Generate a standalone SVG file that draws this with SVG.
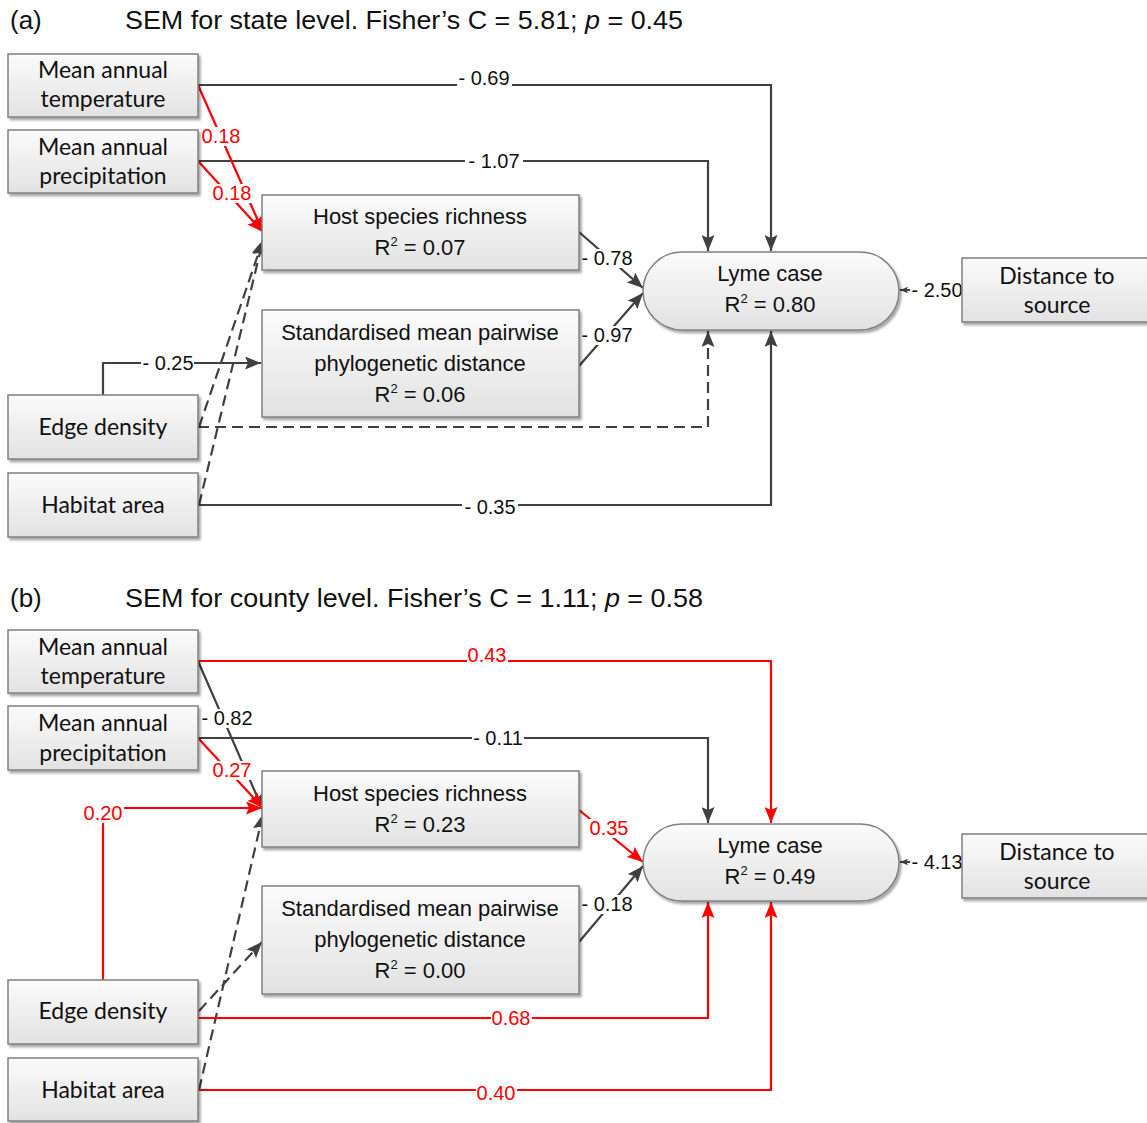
<svg xmlns="http://www.w3.org/2000/svg" width="1147" height="1123" viewBox="0 0 1147 1123">
<defs>
<linearGradient id="gbox" x1="0" y1="0" x2="0" y2="1">
<stop offset="0" stop-color="#fbfbfb"/>
<stop offset="1" stop-color="#e2e2e2"/>
</linearGradient>
<filter id="sh" x="-10%" y="-10%" width="120%" height="130%">
<feDropShadow dx="2" dy="2.5" stdDeviation="1.2" flood-color="#000" flood-opacity="0.35"/>
</filter>
<marker id="ak" viewBox="0 0 16 13" refX="16" refY="6.5" markerWidth="16" markerHeight="13" markerUnits="userSpaceOnUse" orient="auto">
<path d="M0,0 L16,6.5 L0,13 L3,6.5 z" fill="#404040" stroke="none"/>
</marker>
<marker id="ar" viewBox="0 0 16 13" refX="16" refY="6.5" markerWidth="16" markerHeight="13" markerUnits="userSpaceOnUse" orient="auto">
<path d="M0,0 L16,6.5 L0,13 L3,6.5 z" fill="#ff0000" stroke="none"/>
</marker>
<marker id="as" viewBox="0 0 16 13" refX="16" refY="6.5" markerWidth="8" markerHeight="6.5" markerUnits="userSpaceOnUse" orient="auto">
<path d="M0,0 L16,6.5 L0,13 L3,6.5 z" fill="#404040" stroke="none"/>
</marker>
</defs>
<style>
.box{fill:url(#gbox);stroke:#808080;stroke-width:1.5;filter:url(#sh)}
.tc{font-family:Lato,"Liberation Sans",sans-serif;font-size:23px;fill:#111;text-anchor:middle}
.ta{font-family:"Liberation Sans",Arial,sans-serif;font-size:22px;fill:#111;text-anchor:middle}
.title{font-family:"Liberation Sans",Arial,sans-serif;font-size:26px;fill:#111}
.k{fill:none;stroke:#404040;stroke-width:2.2}
.r{fill:none;stroke:#ff0000;stroke-width:2.2}
.d{stroke-dasharray:11 6}
.lb rect{fill:#fff}
.lb text{font-family:"Liberation Sans",Arial,sans-serif;font-size:20px;text-anchor:middle}
.lk text{fill:#111}
.lr text{fill:#ff0000}
</style>
<rect width="1147" height="1123" fill="#fff"/>

<g id="titles">
<text class="title" x="10" y="29">(a)</text>
<text class="title" x="125" y="29" textLength="558" lengthAdjust="spacingAndGlyphs">SEM for state level. Fisher’s C = 5.81; <tspan font-style="italic">p</tspan> = 0.45</text>
<text class="title" x="10" y="607">(b)</text>
<text class="title" x="125" y="607" textLength="578" lengthAdjust="spacingAndGlyphs">SEM for county level. Fisher’s C = 1.11; <tspan font-style="italic">p</tspan> = 0.58</text>
</g>

<g id="connectors">
<!-- panel a black -->
<path class="k" d="M198,85 H771 V251" marker-end="url(#ak)"/>
<path class="k" d="M198,161 H708 V251" marker-end="url(#ak)"/>
<path class="k d" d="M198,427 H708 V331" marker-end="url(#ak)"/>
<path class="k" d="M198,505 H771 V331" marker-end="url(#ak)"/>
<path class="k" d="M103,395 V363 H261" marker-end="url(#ak)"/>
<path class="k d" d="M199,427 L263,240" marker-end="url(#ak)"/>
<path class="k d" d="M199,505 L263,240" marker-end="url(#ak)"/>
<path class="k" d="M579,232 L643,288" marker-end="url(#ak)"/>
<path class="k" d="M579,366 L643,293" marker-end="url(#ak)"/>
<path class="k" d="M962,290 H900" marker-end="url(#as)"/>
<!-- panel a red -->
<path class="r" d="M198,85 L263,232" marker-end="url(#ar)"/>
<path class="r" d="M198,161 L263,232" marker-end="url(#ar)"/>
<!-- panel b black -->
<path class="k" d="M198,738 H708 V823" marker-end="url(#ak)"/>
<path class="k" d="M198,661 L263,810" marker-end="url(#ak)"/>
<path class="k d" d="M199,1011 L262,942" marker-end="url(#ak)"/>
<path class="k d" d="M199,1090 L263,814" marker-end="url(#ak)"/>
<path class="k" d="M579,942 L643,866" marker-end="url(#ak)"/>
<path class="k" d="M962,862 H900" marker-end="url(#as)"/>
<!-- panel b red -->
<path class="r" d="M198,661 H771 V823" marker-end="url(#ar)"/>
<path class="r" d="M198,738 L263,808" marker-end="url(#ar)"/>
<path class="r" d="M103,980 V808 H262" marker-end="url(#ar)"/>
<path class="r" d="M198,1011 V1018 H708 V902" marker-end="url(#ar)"/>
<path class="r" d="M198,1090 H771 V902" marker-end="url(#ar)"/>
<path class="r" d="M579,810 L643,862" marker-end="url(#ar)"/>

<!-- labels a -->
<g class="lb lk"><rect x="457" y="70" width="55" height="19"/><text x="484" y="85">- 0.69</text></g>
<g class="lb lk"><rect x="465" y="152" width="58" height="19"/><text x="494" y="168">- 1.07</text></g>
<g class="lb lk"><rect x="462" y="498" width="56" height="19"/><text x="490" y="514">- 0.35</text></g>
<g class="lb lk"><rect x="141" y="354" width="53" height="19"/><text x="168" y="370">- 0.25</text></g>
<g class="lb lk"><rect x="910" y="281" width="53" height="19"/><text x="937" y="297">- 2.50</text></g>
<g class="lb lk"><rect x="581" y="249" width="53" height="19"/><text x="607" y="265">- 0.78</text></g>
<g class="lb lk"><rect x="581" y="326" width="53" height="19"/><text x="607" y="342">- 0.97</text></g>
<g class="lb lr"><rect x="201" y="127" width="41" height="19"/><text x="221" y="143">0.18</text></g>
<g class="lb lr"><rect x="212" y="184" width="41" height="19"/><text x="232" y="200">0.18</text></g>
<!-- labels b -->
<g class="lb lr"><rect x="467" y="646" width="41" height="19"/><text x="487" y="662">0.43</text></g>
<g class="lb lk"><rect x="472" y="729" width="52" height="19"/><text x="498" y="745">- 0.11</text></g>
<g class="lb lr"><rect x="491" y="1009" width="41" height="19"/><text x="511" y="1025">0.68</text></g>
<g class="lb lr"><rect x="476" y="1084" width="41" height="19"/><text x="496" y="1100">0.40</text></g>
<g class="lb lr"><rect x="82" y="804" width="42" height="19"/><text x="103" y="820">0.20</text></g>
<g class="lb lk"><rect x="202" y="709" width="51" height="19"/><text x="227" y="725">- 0.82</text></g>
<g class="lb lr"><rect x="212" y="761" width="39" height="19"/><text x="232" y="777">0.27</text></g>
<g class="lb lr"><rect x="589" y="819" width="41" height="19"/><text x="609" y="835">0.35</text></g>
<g class="lb lk"><rect x="581" y="895" width="53" height="19"/><text x="607" y="911">- 0.18</text></g>
<g class="lb lk"><rect x="910" y="853" width="53" height="19"/><text x="937" y="869">- 4.13</text></g>
</g>

<!-- panel a nodes -->
<g id="a-temp"><rect class="box" x="8" y="54" width="190" height="63"/><text class="tc" x="103" y="78">Mean annual</text><text class="tc" x="103" y="107">temperature</text></g>
<g id="a-precip"><rect class="box" x="8" y="130" width="190" height="63"/><text class="tc" x="103" y="155">Mean annual</text><text class="tc" x="103" y="184">precipitation</text></g>
<g id="a-host"><rect class="box" x="262" y="195" width="317" height="75"/><text class="ta" x="420" y="224">Host species richness</text><text class="ta" x="420" y="255">R<tspan dy="-9" font-size="13">2</tspan><tspan dy="9"> = 0.07</tspan></text></g>
<g id="a-smpd"><rect class="box" x="262" y="310" width="317" height="107"/><text class="ta" x="420" y="340">Standardised mean pairwise</text><text class="ta" x="420" y="371">phylogenetic distance</text><text class="ta" x="420" y="402">R<tspan dy="-9" font-size="13">2</tspan><tspan dy="9"> = 0.06</tspan></text></g>
<g id="a-edge"><rect class="box" x="8" y="395" width="190" height="64"/><text class="tc" x="103" y="435">Edge density</text></g>
<g id="a-habitat"><rect class="box" x="8" y="473" width="190" height="64"/><text class="tc" x="103" y="513">Habitat area</text></g>
<g id="a-lyme"><rect class="box" x="643" y="252" width="256" height="78" rx="39" ry="39"/><text class="ta" x="770" y="281">Lyme case</text><text class="ta" x="770" y="312">R<tspan dy="-9" font-size="13">2</tspan><tspan dy="9"> = 0.80</tspan></text></g>
<g id="a-dist"><rect class="box" x="962" y="258" width="195" height="64"/><text class="tc" x="1057" y="284">Distance to</text><text class="tc" x="1057" y="313">source</text></g>

<!-- panel b nodes -->
<g id="b-temp"><rect class="box" x="8" y="630" width="190" height="63"/><text class="tc" x="103" y="655">Mean annual</text><text class="tc" x="103" y="684">temperature</text></g>
<g id="b-precip"><rect class="box" x="8" y="706" width="190" height="64"/><text class="tc" x="103" y="731">Mean annual</text><text class="tc" x="103" y="761">precipitation</text></g>
<g id="b-host"><rect class="box" x="262" y="771" width="317" height="76"/><text class="ta" x="420" y="801">Host species richness</text><text class="ta" x="420" y="832">R<tspan dy="-9" font-size="13">2</tspan><tspan dy="9"> = 0.23</tspan></text></g>
<g id="b-smpd"><rect class="box" x="262" y="886" width="317" height="108"/><text class="ta" x="420" y="916">Standardised mean pairwise</text><text class="ta" x="420" y="947">phylogenetic distance</text><text class="ta" x="420" y="978">R<tspan dy="-9" font-size="13">2</tspan><tspan dy="9"> = 0.00</tspan></text></g>
<g id="b-edge"><rect class="box" x="8" y="980" width="190" height="64"/><text class="tc" x="103" y="1019">Edge density</text></g>
<g id="b-habitat"><rect class="box" x="8" y="1058" width="190" height="63"/><text class="tc" x="103" y="1098">Habitat area</text></g>
<g id="b-lyme"><rect class="box" x="643" y="824" width="256" height="77" rx="38.5" ry="38.5"/><text class="ta" x="770" y="853">Lyme case</text><text class="ta" x="770" y="884">R<tspan dy="-9" font-size="13">2</tspan><tspan dy="9"> = 0.49</tspan></text></g>
<g id="b-dist"><rect class="box" x="962" y="834" width="195" height="64"/><text class="tc" x="1057" y="860">Distance to</text><text class="tc" x="1057" y="889">source</text></g>
</svg>
